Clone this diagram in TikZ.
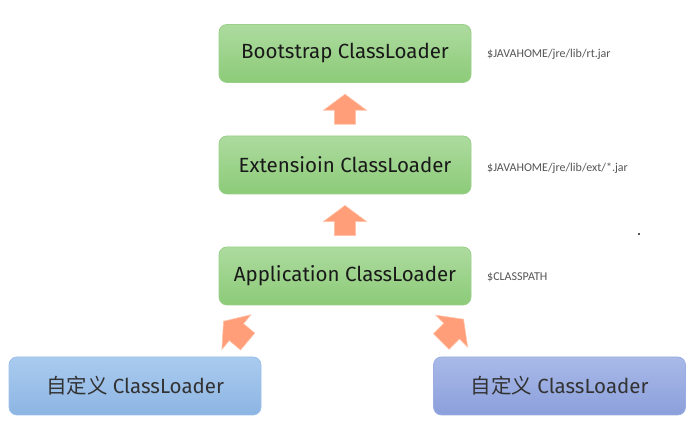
\documentclass[tikz,border=0pt]{standalone}
\usepackage{fontspec}
\setmainfont{Fira Sans}
\newfontfamily\cjk{Noto Sans CJK SC}
\newfontfamily\labfont{Carlito}
\usetikzlibrary{calc}
\definecolor{gtop}{HTML}{ADDB9F}
\definecolor{gbot}{HTML}{8CCB78}
\definecolor{gbord}{HTML}{9AD089}
\definecolor{btop}{HTML}{AACBEF}
\definecolor{bbot}{HTML}{8DB5E3}
\definecolor{bbord}{HTML}{9DC0EA}
\definecolor{ptop}{HTML}{A9BAE8}
\definecolor{pbot}{HTML}{8B9FDB}
\definecolor{pbord}{HTML}{9AAEE2}
\definecolor{arrfill}{HTML}{FF9E78}
\definecolor{arredge}{HTML}{FFC2A8}
\definecolor{labgray}{HTML}{555555}
\tikzset{
  loader/.style={rounded corners=8pt, minimum width=252pt, minimum height=58pt,
    inner sep=0pt, font=\fontsize{20.5}{24}\selectfont, text=black!90},
  greenbox/.style={loader, draw=gbord, line width=0.8pt, top color=gtop, bottom color=gbot},
  bluebox/.style={loader, draw=bbord, line width=0.8pt, top color=btop, bottom color=bbot, text=black!80},
  purplebox/.style={loader, draw=pbord, line width=0.8pt, top color=ptop, bottom color=pbot, text=black!80},
  pathlab/.style={anchor=west, inner sep=0pt, font=\labfont\fontsize{12}{13}\selectfont, text=labgray},
  blockarrow/.style={fill=arrfill, draw=arredge, line width=0.6pt, line join=miter}
}
\newcommand{\blockarr}[3]{% center, rotation, scale
  \begin{scope}[shift={#1}, rotate=#2, scale=#3]
    \path[blockarrow] (0,15) -- (21.5,-1) -- (10.5,-1) -- (10.5,-15) -- (-10.5,-15) -- (-10.5,-1) -- (-21.5,-1) -- cycle;
  \end{scope}}
\begin{document}
\begin{tikzpicture}[x=1pt,y=1pt]
\useasboundingbox (0,0) rectangle (696,438);
\fill[white] (0,0) rectangle (696,438);
\node[greenbox] (boot) at (345,384.5) {Bootstrap ClassLoader};
\node[greenbox] (ext) at (345,273) {Extensioin ClassLoader};
\node[greenbox] (app) at (345,162) {Application ClassLoader};
\node[bluebox] (c1) at (135,52) {{\cjk 自定义} ClassLoader};
\node[purplebox] (c2) at (559.5,52) {{\cjk 自定义} ClassLoader};
\node[pathlab] (lb) at (487,384) {\$JAVAHOME/jre/lib/rt.jar};
\node[pathlab] (le) at (487,270) {\$JAVAHOME/jre/lib/ext/*.jar};
\node[pathlab] (la) at (487,161) {\$CLASSPATH};
\coordinate (dot) at (639,204);
\fill[labgray] ($(dot)+(-0.8,-0.8)$) rectangle ($(dot)+(0.8,0.8)$);
% arrows
\coordinate (a1) at ($(boot.south)!0.5!(ext.north)$);
\coordinate (a2) at ($(ext.south)!0.5!(app.north)$);
\blockarr{(a1)}{0}{1}
\blockarr{(a2)}{0}{1}
\coordinate (a3) at ($(app.south west)+(17,-26)$);
\coordinate (a4) at ($(app.south east)+(-19,-25)$);
\blockarr{(a3)}{50}{1.05}
\blockarr{(a4)}{-45}{1.05}
\end{tikzpicture}
\end{document}
